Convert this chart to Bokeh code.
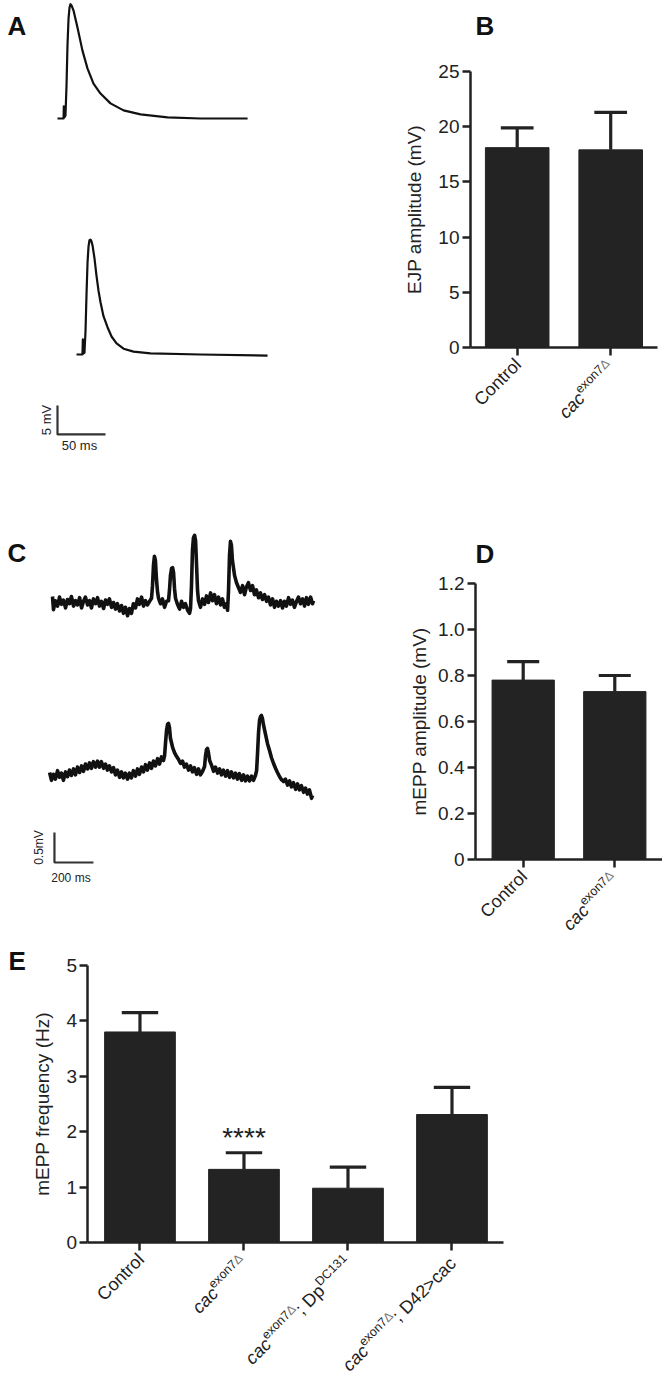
import math
from bokeh.plotting import figure
from bokeh.models import Range1d, FixedTicker, CustomJSTickFormatter, Label, ColumnDataSource
from bokeh.layouts import column, row
from bokeh.embed import file_html
from bokeh.resources import INLINE

# ---------------- data ----------------
# Panel A: evoked EJP traces (time in ms, voltage in mV)
A_CTRL_T = [0, 5.2, 6.3, 6.6, 7.3, 8.3, 9.4, 10.4, 11.5, 12.5, 13.5, 14.6, 16.7, 20.8, 26.0, 31.3,
            37.5, 44.8, 55.2, 68.8, 86.5, 114.6, 149.0, 198.0]
A_CTRL_V = [0, 0, 0, 2.1, 0.2, 0.5, 5.7, 12.6, 17.2, 19.1, 19.7, 19.5, 18.6, 15.7, 11.7, 8.6,
            6.0, 4.3, 2.6, 1.4, 0.7, 0.2, 0.0, 0.0]
A_CAC_T = [19.8, 26.0, 26.4, 27.1, 28.1, 29.2, 30.2, 31.3, 32.3, 33.3, 34.4, 35.4, 36.5, 38.5,
           40.6, 42.7, 44.8, 47.9, 52.1, 56.3, 61.5, 68.8, 79.2, 96.9, 149.0, 218.8]
A_CAC_V = [0, 0, 2.6, 0.2, 0.3, 4.1, 10.2, 15.9, 18.6, 19.7, 19.8, 19.5, 18.8, 16.6,
           13.6, 11.0, 9.0, 6.6, 4.7, 3.1, 1.9, 1.0, 0.5, 0.2, 0.0, -0.2]
A_SCALE_MS = 50
A_SCALE_MV = 5
A_SCALE_TEXT = ["5 mV", "50 ms"]

# Panel C: spontaneous mEPP traces (time in ms, voltage in mV)
C_CTRL_T = [0, 5, 15, 26, 36, 46, 56, 67, 77, 87, 97, 108, 118, 128, 139, 149, 159, 169, 180, 190,
            200, 210, 221, 231, 241, 251, 262, 272, 282, 292, 303, 313, 323, 333, 344, 354, 364, 374,
            385, 395, 405, 415, 426, 436, 446, 457, 467, 477, 487, 498, 508, 513, 518, 523, 528, 533,
            539, 544, 554, 564, 575, 585, 595, 600, 605, 611, 616, 621, 626, 631, 641, 652, 662, 672,
            682, 693, 703, 708, 713, 718, 723, 729, 734, 739, 744, 749, 759, 770, 780, 790, 800, 811,
            821, 831, 841, 852, 862, 872, 882, 893, 898, 903, 908, 913, 918, 923, 934, 944, 954, 964,
            975, 985, 995, 1005, 1016, 1026, 1036, 1046, 1057, 1067, 1077, 1088, 1098, 1108, 1118,
            1129, 1139, 1149, 1159, 1170, 1180, 1190, 1200, 1211, 1221, 1231, 1241, 1252, 1262, 1272,
            1283, 1293, 1303, 1313, 1324, 1334, 1339]
C_CTRL_V = [0.10, -0.12, 0.03, -0.06, 0.09, -0.03, 0.04, -0.09, 0.05, -0.02,
            0.10, -0.06, 0.03, -0.04, 0.08, -0.09, 0.02, 0.09, -0.04, 0.03,
            -0.09, 0.06, -0.02, 0.08, -0.06, 0.02, -0.10, 0.04, -0.03, 0.06,
            -0.08, 0.00, -0.11, -0.02, -0.14, -0.05, -0.18, -0.08, -0.22, -0.10,
            -0.18, -0.02, -0.09, 0.06, -0.03, 0.09, -0.06, 0.03, -0.04, 0.02,
            0.07, 0.28, 0.62, 0.77, 0.70, 0.40, 0.17, 0.07, -0.02, 0.06,
            -0.08, 0.02, 0.03, 0.20, 0.45, 0.57, 0.58, 0.50, 0.23, 0.07,
            -0.03, -0.11, 0.02, -0.08, -0.02, -0.13, -0.18, -0.10, 0.28, 0.87,
            1.08, 1.12, 1.03, 0.62, 0.20, 0.03, -0.08, 0.06, -0.03, 0.11,
            0.00, 0.16, 0.03, 0.13, -0.02, 0.09, -0.04, 0.06, -0.08, -0.02,
            -0.13, 0.20, 0.78, 1.02, 0.95, 0.70, 0.45, 0.33, 0.25, 0.17,
            0.28, 0.13, 0.26, 0.33, 0.20, 0.28, 0.13, 0.21, 0.08, 0.16,
            0.05, 0.13, 0.02, 0.09, -0.04, 0.06, -0.08, 0.02, -0.06, 0.03,
            -0.09, 0.02, -0.06, 0.08, -0.03, 0.04, -0.08, 0.02, 0.09, -0.02,
            0.06, -0.06, 0.08, -0.03, 0.09, -0.02, 0.03]
C_CAC_T = [-15, -5, 5, 15, 26, 36, 46, 56, 67, 77, 87, 97, 108, 118, 128, 139, 149, 159, 169, 180,
           190, 200, 210, 221, 231, 241, 251, 262, 272, 282, 292, 303, 313, 323, 333, 344, 354, 364,
           374, 385, 395, 405, 415, 426, 436, 446, 457, 467, 477, 487, 498, 508, 518, 528, 539, 549,
           559, 569, 575, 580, 585, 590, 595, 600, 605, 616, 626, 636, 646, 657, 667, 677, 687, 698,
           708, 718, 728, 739, 749, 759, 770, 780, 785, 790, 795, 800, 806, 816, 826, 836, 847, 857,
           867, 877, 888, 898, 908, 918, 929, 939, 949, 959, 970, 980, 990, 1000, 1011, 1021, 1031,
           1041, 1047, 1052, 1057, 1062, 1067, 1072, 1077, 1082, 1093, 1103, 1113, 1123, 1134, 1144,
           1154, 1165, 1175, 1185, 1195, 1206, 1216, 1226, 1236, 1247, 1257, 1267, 1277, 1288, 1298,
           1308, 1318, 1329, 1334]
C_CAC_V = [0.05, -0.08, 0.02, -0.06, 0.08, -0.03, 0.04, -0.08, 0.06, -0.02,
           0.09, 0.00, 0.11, 0.01, 0.14, 0.05, 0.16, 0.07, 0.19, 0.11,
           0.21, 0.12, 0.23, 0.14, 0.24, 0.14, 0.23, 0.12, 0.19, 0.09,
           0.16, 0.06, 0.13, 0.01, 0.09, -0.03, 0.06, -0.04, 0.04, -0.06,
           0.04, -0.04, 0.08, -0.01, 0.11, 0.02, 0.14, 0.06, 0.18, 0.09,
           0.21, 0.12, 0.24, 0.16, 0.28, 0.19, 0.31, 0.25, 0.33, 0.55,
           0.75, 0.85, 0.87, 0.80, 0.62, 0.47, 0.38, 0.32, 0.27, 0.20,
           0.24, 0.14, 0.19, 0.09, 0.16, 0.06, 0.13, 0.02, 0.11, 0.01,
           0.07, 0.15, 0.33, 0.43, 0.45, 0.38, 0.25, 0.17, 0.07, 0.14,
           0.04, 0.11, 0.01, 0.09, -0.01, 0.08, -0.03, 0.06, -0.04, 0.04,
           -0.06, 0.03, -0.08, 0.01, -0.09, -0.01, -0.09, -0.01, -0.08, 0.00,
           0.08, 0.38, 0.72, 0.92, 0.98, 1.00, 0.95, 0.85, 0.68, 0.53,
           0.42, 0.30, 0.20, 0.12, 0.05, -0.02, -0.07, -0.10, -0.06, -0.16,
           -0.09, -0.19, -0.12, -0.23, -0.14, -0.24, -0.17, -0.28, -0.21, -0.31,
           -0.24, -0.38, -0.33]
C_SCALE_MS = 200
C_SCALE_MV = 0.5
C_SCALE_TEXT = ["0.5mV", "200 ms"]

# Category labels: pieces of (text, kind); kind n=normal, i=italic, s=superscript, d=superscript delta
LBL_CONTROL = [("Control", "n")]
LBL_CAC = [("cac", "i"), ("exon7", "s"), ("\u0394", "d")]
LBL_CAC_DP = [("cac", "i"), ("exon7", "s"), ("\u0394", "d"), ("; Dp", "n"), ("DC131", "s")]
LBL_CAC_D42 = [("cac", "i"), ("exon7", "s"), ("\u0394", "d"), ("; D42>cac", "n")]

# Panel B
B_CATS = [LBL_CONTROL, LBL_CAC]
B_MEAN = [18.1, 17.9]
B_SEM = [1.8, 3.4]
B_YTICKS = [0, 5, 10, 15, 20, 25]
B_YTICK_LABELS = ["0", "5", "10", "15", "20", "25"]
B_YLABEL = "EJP amplitude (mV)"

# Panel D
D_CATS = [LBL_CONTROL, LBL_CAC]
D_MEAN = [0.78, 0.73]
D_SEM = [0.08, 0.07]
D_YTICKS = [0, 0.2, 0.4, 0.6, 0.8, 1.0, 1.2]
D_YTICK_LABELS = ["0", "0.2", "0.4", "0.6", "0.8", "1.0", "1.2"]
D_YLABEL = "mEPP amplitude (mV)"

# Panel E
E_CATS = [LBL_CONTROL, LBL_CAC, LBL_CAC_DP, LBL_CAC_D42]
E_MEAN = [3.8, 1.32, 0.98, 2.31]
E_SEM = [0.35, 0.30, 0.38, 0.49]
E_SIG = ["", "****", "", ""]
E_YTICKS = [0, 1, 2, 3, 4, 5]
E_YTICK_LABELS = ["0", "1", "2", "3", "4", "5"]
E_YLABEL = "mEPP frequency (Hz)"

# ---------------- style ----------------
FONT = "Liberation Sans"
INK = "#222222"
BAR = "#232323"
TRACE = "#111111"
DELTA = "#777777"
BAR_W = 0.68
CAP = 0.175
MAIN_PX = 18.0
SUP_PX = 12.5
RISE_PX = 6.0
ADV = {' ': 278, ';': 278, '>': 584, 'C': 722, 'D': 722, 'a': 556, 'c': 500, 'e': 556, 'n': 556,
       'o': 556, 'p': 556, 'x': 500, 'l': 222, 'r': 333, 't': 278, '\u0394': 668}


def text_w(s, size):
    return sum(ADV.get(ch, 556) for ch in s) / 1000.0 * size


def tick_fmt(tick_values, tick_texts):
    return CustomJSTickFormatter(args=dict(tv=list(tick_values), tt=list(tick_texts)), code="""
        for (let i = 0; i < tv.length; i++) {
            if (Math.abs(tv[i] - tick) < 1e-9) { return tt[i]; }
        }
        return '';
    """)


def letter(p, text, x, y, dx, dy):
    p.add_layout(Label(x=x, y=y, x_offset=dx, y_offset=dy, text=text, text_font=FONT,
                       text_font_size="26px", text_font_style="bold", text_color="#111111",
                       text_align="left", text_baseline="alphabetic"))


def cat_labels(p, cats, plain_off, sup_off):
    c = math.cos(math.radians(45))
    for i, pieces in enumerate(cats):
        has_sup = any(k in "sd" for _, k in pieces)
        ex, ey = sup_off if has_sup else plain_off
        w_after = 0.0
        for text, kind in reversed(pieces):
            sup = kind in "sd"
            size = SUP_PX if sup else MAIN_PX
            rise = RISE_PX if sup else 0.0
            ox = ex - w_after * c - rise * c
            oy = -ey - w_after * c + rise * c
            p.add_layout(Label(x=i, y=0, x_offset=ox, y_offset=oy, text=text, angle=45,
                               angle_units="deg", text_align="right", text_baseline="alphabetic",
                               text_font=FONT, text_font_size=f"{size}px",
                               text_font_style="italic" if kind == "i" else "normal",
                               text_color=DELTA if kind == "d" else INK))
            w_after += text_w(text, size)


def base_figure(width, height, xr, yr, axes=True):
    kw = {} if axes else dict(x_axis_location=None, y_axis_location=None)
    p = figure(width=width, height=height, x_range=Range1d(*xr), y_range=Range1d(*yr),
               toolbar_location=None, output_backend="svg", title=None, min_border=0, **kw)
    p.outline_line_color = None
    p.grid.visible = False
    return p


def bar_panel(width, height, xr, yr, y_axis_at, x_bounds, yticks, ytick_labels, ylabel,
              lab_standoff, means, sems, cats):
    p = base_figure(width, height, xr, yr)
    idx = list(range(len(means)))
    src = ColumnDataSource(dict(x=idx, top=means, hi=[m + s for m, s in zip(means, sems)],
                                x0=[i - CAP for i in idx], x1=[i + CAP for i in idx]))
    p.vbar(x="x", top="top", width=BAR_W, source=src, fill_color=BAR, line_color=BAR)
    p.segment(x0="x", y0="top", x1="x", y1="hi", source=src, line_color=BAR, line_width=3.2)
    p.segment(x0="x0", y0="hi", x1="x1", y1="hi", source=src, line_color=BAR, line_width=3.2)
    for ax in (p.xaxis[0], p.yaxis[0]):
        ax.axis_line_width = 2.5
        ax.axis_line_color = INK
        ax.major_tick_line_width = 2.5
        ax.major_tick_line_color = INK
        ax.major_tick_out = 8
        ax.major_tick_in = 0
        ax.minor_tick_line_color = None
        ax.major_label_text_font = FONT
        ax.major_label_text_font_size = "19px"
        ax.major_label_text_color = INK
    p.xaxis.ticker = FixedTicker(ticks=idx)
    p.xaxis.formatter = CustomJSTickFormatter(code="return '';")
    p.xaxis.fixed_location = yticks[0]
    p.xaxis.bounds = x_bounds
    p.yaxis.ticker = FixedTicker(ticks=yticks)
    p.yaxis.formatter = tick_fmt(yticks, ytick_labels)
    p.yaxis.fixed_location = y_axis_at
    p.yaxis.bounds = (yticks[0], yticks[-1])
    p.yaxis.major_label_standoff = 3
    p.yaxis.axis_label = ylabel
    p.yaxis.axis_label_text_font = FONT
    p.yaxis.axis_label_text_font_size = "19px"
    p.yaxis.axis_label_text_font_style = "normal"
    p.yaxis.axis_label_text_color = INK
    p.yaxis.axis_label_standoff = lab_standoff
    cat_labels(p, cats, (1, 14), (1, 18))
    return p


# ---------------- panel A ----------------
A_XR = (-59.375, 336.458)
A_YR = (-27.76, 61.03)
A_CTRL_SHIFT = 40.69      # vertical stacking offset of the upper trace (mV)
A_BAR_ORIGIN = (0.0, -13.79)
pa = base_figure(380, 515, A_XR, A_YR, axes=False)
pa.line(A_CTRL_T, [v + A_CTRL_SHIFT for v in A_CTRL_V], line_color=TRACE, line_width=2.2,
        line_join="round")
pa.line(A_CAC_T, A_CAC_V, line_color=TRACE, line_width=2.2, line_join="round")
bx, by = A_BAR_ORIGIN
pa.line([bx, bx, bx + A_SCALE_MS], [by + A_SCALE_MV, by, by], line_color="#333333",
        line_width=2.2)
pa.add_layout(Label(x=bx, y=by + A_SCALE_MV / 2, x_offset=-4, text=A_SCALE_TEXT[0], angle=90,
                    angle_units="deg", text_align="center", text_baseline="bottom",
                    text_font=FONT, text_font_size="13px", text_color=INK))
pa.add_layout(Label(x=bx + A_SCALE_MS / 2, y=by, x_offset=-2, y_offset=-4, text=A_SCALE_TEXT[1],
                    text_align="center", text_baseline="top", text_font=FONT,
                    text_font_size="13px", text_color=INK))
letter(pa, "A", A_XR[0], A_YR[1], 7, -25)

# ---------------- panel B ----------------
pb = bar_panel(282, 515, (-1.462, 1.554), (-15.22, 31.43), -0.5, (-0.5, 1.5),
               B_YTICKS, B_YTICK_LABELS, B_YLABEL, 10, B_MEAN, B_SEM, B_CATS)
letter(pb, "B", -0.5, B_YTICKS[-1], 5, 45)

# ---------------- panel C ----------------
C_XR = (-266.8, 1682.6)
C_YR = (-2.7833, 4.333)
C_CTRL_SHIFT = 2.883
C_BAR_ORIGIN = (10.0, -1.45)
pc = base_figure(380, 427, C_XR, C_YR, axes=False)
pc.line(C_CTRL_T, [v + C_CTRL_SHIFT for v in C_CTRL_V], line_color=TRACE, line_width=3.6,
        line_join="round")
pc.line(C_CAC_T, C_CAC_V, line_color=TRACE, line_width=3.6, line_join="round")
cx, cy = C_BAR_ORIGIN
pc.line([cx, cx, cx + C_SCALE_MS], [cy + C_SCALE_MV, cy, cy], line_color="#333333",
        line_width=2.2)
pc.add_layout(Label(x=cx, y=cy + C_SCALE_MV / 2, x_offset=-8, text=C_SCALE_TEXT[0], angle=90,
                    angle_units="deg", text_align="center", text_baseline="bottom",
                    text_font=FONT, text_font_size="12px", text_color=INK))
pc.add_layout(Label(x=cx + C_SCALE_MS / 2, y=cy, x_offset=-3, y_offset=-9, text=C_SCALE_TEXT[1],
                    text_align="center", text_baseline="top", text_font=FONT,
                    text_font_size="12px", text_color=INK))
letter(pc, "C", C_XR[0], C_YR[1], 7, -37)

# ---------------- panel D ----------------
pd = bar_panel(282, 427, (-1.558, 1.521), (-0.3609, 1.4957), -0.521, (-0.521, 1.521),
               D_YTICKS, D_YTICK_LABELS, D_YLABEL, 5, D_MEAN, D_SEM, D_CATS)
letter(pd, "D", -0.521, D_YTICKS[-1], 0, 30)

# ---------------- panel E ----------------
pe = bar_panel(662, 442, (-1.341, 5.024), (-2.5632, 5.415), -0.5, (-0.5, 3.5),
               E_YTICKS, E_YTICK_LABELS, E_YLABEL, 10, E_MEAN, E_SEM, E_CATS)
for i, s in enumerate(E_SIG):
    if s:
        pe.add_layout(Label(x=i, y=E_MEAN[i] + E_SEM[i], y_offset=15, text=s, text_align="center",
                            text_baseline="alphabetic", text_font=FONT, text_font_size="28px",
                            text_color=INK))
letter(pe, "E", -1.341, E_YTICKS[-1], 8, 4)

layout = column(row(pa, pb), row(pc, pd), pe)

with open("out.html", "w") as f:
    f.write(file_html(layout, INLINE))
